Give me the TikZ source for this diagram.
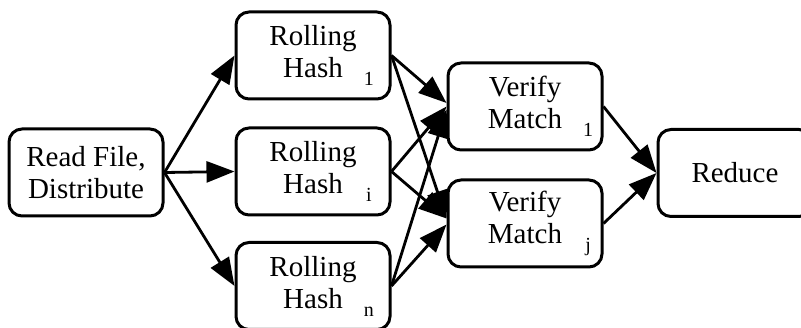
\documentclass[tikz,border=0pt]{standalone}
\usepackage{fontspec}
\setmainfont{Liberation Serif}
\usetikzlibrary{arrows.meta}
\newcommand\subx[1]{\rlap{\hspace{26pt}\makebox[0pt]{\raisebox{-8pt}{\fontsize{20}{20}\selectfont #1}}}}
\begin{document}
\begin{tikzpicture}[x=1pt,y=-1pt,
  box/.style={draw,line width=3pt,rounded corners=13pt,minimum width=154pt,minimum height=87pt,
    inner sep=0pt,align=center,font=\fontsize{29}{32}\selectfont},
  edge/.style={line width=2.8pt,-{Triangle[length=28pt,width=21pt]}}]
\useasboundingbox (0,0) rectangle (801,328);
\clip (0,0) rectangle (801,328);
\node[box] (rf) at (86,172.5) {Read File,\\Distribute};
\node[box] (h1) at (313,55.5) {Rolling\\Hash\subx{1}};
\node[box] (hi) at (313,171.5) {Rolling\\Hash\subx{i}};
\node[box] (hn) at (313,286) {Rolling\\Hash\subx{n}};
\node[box] (v1) at (525,106.5) {Verify\\Match\subx{1}};
\node[box] (vj) at (525,223.5) {Verify\\Match\subx{j}};
\node[box] (rd) at (735,173) {Reduce};
\draw[edge] (rf.east) -- (h1.west);
\draw[edge] (rf.east) -- (hi.west);
\draw[edge] (rf.east) -- (hn.west);
\draw[edge] (h1.east) -- ([yshift=3.5pt]v1.west);
\draw[edge] (h1.east) -- ([yshift=5pt]vj.west);
\draw[edge] (hi.east) -- ([yshift=0pt]v1.west);
\draw[edge] (hi.east) -- ([yshift=5pt]vj.west);
\draw[edge] (hn.east) -- ([yshift=-3pt]v1.west);
\draw[edge] (hn.east) -- ([yshift=-1pt]vj.west);
\draw[edge] (v1.east) -- (rd.west);
\draw[edge] (vj.east) -- (rd.west);
\end{tikzpicture}
\end{document}
